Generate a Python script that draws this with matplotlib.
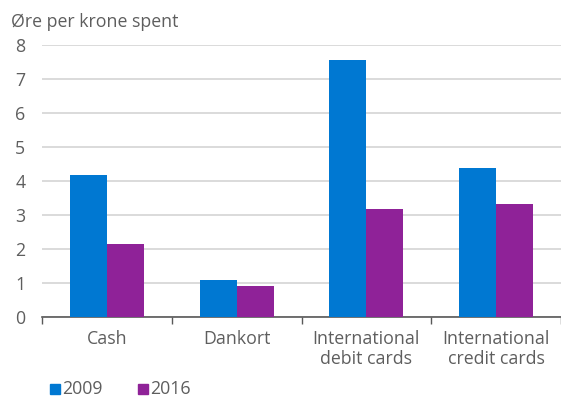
import numpy as np
import matplotlib
matplotlib.use('Agg')
from matplotlib import pyplot as plt
from matplotlib.patches import Rectangle

# Data
categories = ['Cash', 'Dankort', 'International\ndebit cards', 'International\ncredit cards']
val_2009 = [4.17, 1.08, 7.57, 4.39]
val_2016 = [2.14, 0.91, 3.17, 3.31]
series_names = ['2009', '2016']

blue = '#0078D2'
purple = '#8F2298'
grey_txt = '#5E5E5E'
fs = 12.8

plt.rcParams['font.family'] = ['Open Sans', 'DejaVu Sans']

fig = plt.figure(figsize=(5.61, 3.97), dpi=100)
ax = fig.add_axes([42 / 561, 1 - 317 / 397, 1 - 42 / 561, (317 - 45) / 397])

x = np.arange(len(categories))
w = 0.285
ax.bar(x - w / 2, val_2009, w, color=blue, zorder=3)
ax.bar(x + w / 2, val_2016, w, color=purple, zorder=3)

ax.set_xlim(-0.5, len(categories) - 0.5)
ax.set_ylim(0, 8)
ax.set_yticks(range(0, 9))
ax.yaxis.grid(True, color='#D4D4D4', linewidth=1.2, zorder=0)
ax.tick_params(axis='y', length=0, pad=12, labelcolor=grey_txt, labelsize=fs)

# category labels and boundary ticks
ax.set_xticks(x)
ax.set_xticklabels(categories, color=grey_txt, fontsize=fs, linespacing=1.15)
ax.tick_params(axis='x', which='major', length=0, pad=9)
ax.set_xticks(np.arange(-0.5, len(categories) + 0.5, 1), minor=True)
ax.tick_params(axis='x', which='minor', length=5, color='#595959', width=1, direction='out')

for s in ['top', 'right', 'left']:
    ax.spines[s].set_visible(False)
ax.spines['bottom'].set_color('#595959')
ax.spines['bottom'].set_linewidth(1.2)

fig.text(11 / 561, 1 - 22 / 397, 'Øre per krone spent', color=grey_txt, fontsize=fs, va='center', ha='left')

# legend
for i, (name, col) in enumerate(zip(series_names, [blue, purple])):
    x0 = 50 + i * 88
    fig.patches.append(Rectangle((x0 / 561, 1 - 394 / 397), 10 / 561, 10 / 397,
                                 transform=fig.transFigure, color=col))
    fig.text((x0 + 12) / 561, 1 - 389 / 397, name, color=grey_txt, fontsize=fs, va='center', ha='left')

fig.savefig('out.png', dpi=100)
